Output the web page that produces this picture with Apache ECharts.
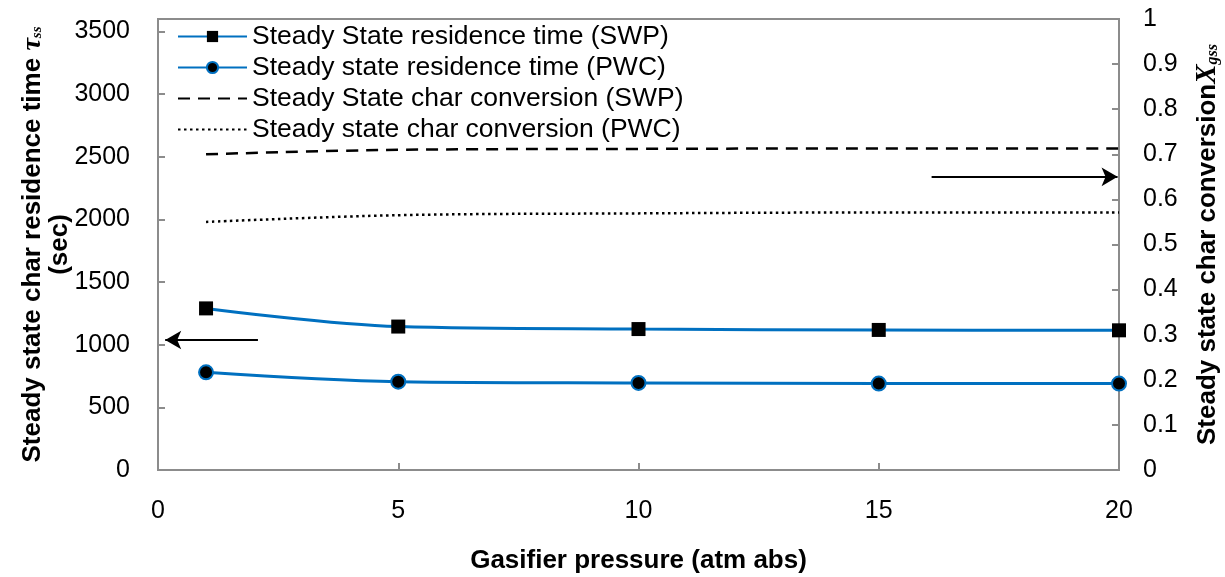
<!DOCTYPE html>
<html>
<head>
<meta charset="utf-8">
<script src="https://cdn.jsdelivr.net/npm/echarts@6/dist/echarts.min.js"></script>
<style>html,body{margin:0;padding:0;background:#fff}#c{width:1225px;height:577px}</style>
</head>
<body>
<div id="c"></div>
<script>
const pressure = [1, 5, 10, 15, 20];
const resSWP = [1290, 1145, 1125, 1118, 1115];
const resPWC = [780, 705, 695, 690, 690];
const convSWP = [0.700, 0.710, 0.712, 0.713, 0.713];
const convPWC = [0.550, 0.565, 0.569, 0.571, 0.571];
const seriesNames = [
  'Steady State residence time (SWP)',
  'Steady state residence time (PWC)',
  'Steady State char conversion (SWP)',
  'Steady state char conversion (PWC)'
];
// annotation arrows (data space): [fromX, fromY] -> [toX, toY]
const leftArrow = [[2.08, 1038], [0.15, 1038]];
const rightArrow = [[16.1, 0.650], [19.97, 0.650]];

const FONT = 'Liberation Sans, Arial, sans-serif';
const SERIF = 'Liberation Serif, Times New Roman, serif';
const pair = (xs, ys) => xs.map((x, i) => [x, ys[i]]);
const axisGrey = '#8c8c8c';
const TICK = 25;
const TITLE = 26;

const chart = echarts.init(document.getElementById('c'));
chart.setOption({
  animation: false,
  backgroundColor: '#fff',
  grid: { left: 158, right: 106, top: 19, bottom: 107, show: true, borderColor: axisGrey, borderWidth: 2,
    containLabel: false, outerBoundsMode: 'none' },
  legend: {
    orient: 'vertical', left: 172, top: 18,
    itemWidth: 69, itemHeight: 14, itemGap: 4,
    textStyle: { fontFamily: FONT, fontSize: 26.5, color: '#000' },
    data: seriesNames
  },
  xAxis: {
    type: 'value', min: 0, max: 20, interval: 5,
    axisLine: { lineStyle: { color: axisGrey, width: 2 } },
    axisTick: { inside: true, length: 7, lineStyle: { color: axisGrey, width: 2 } },
    splitLine: { show: false },
    axisLabel: { fontFamily: FONT, fontSize: TICK, color: '#000', margin: 29 },
    name: 'Gasifier pressure (atm abs)', nameLocation: 'middle', nameGap: 78, nameMoveOverlap: false,
    nameTextStyle: { fontFamily: FONT, fontSize: TITLE, fontWeight: 'bold', color: '#000' }
  },
  yAxis: [{
    type: 'value', min: 0, max: 3600, interval: 500,
    axisLine: { show: true, lineStyle: { color: axisGrey, width: 2 } },
    axisTick: { show: true, inside: true, length: 7, lineStyle: { color: axisGrey, width: 2 } },
    splitLine: { show: false },
    axisLabel: { fontFamily: FONT, fontSize: TICK, color: '#000', margin: 28, showMaxLabel: false,
      formatter: v => String(v) },
    name: '{b|Steady state char residence time }{t|τ}{s|ss}\n{b|(sec)}',
    nameLocation: 'middle', nameRotate: 90, nameGap: 85, nameMoveOverlap: false,
    nameTextStyle: {
      fontFamily: FONT, fontSize: TITLE, fontWeight: 'bold', color: '#000', lineHeight: 27,
      rich: {
        b: { fontFamily: FONT, fontSize: TITLE, fontWeight: 'bold', color: '#000', lineHeight: 27 },
        t: { fontFamily: SERIF, fontSize: 28, fontWeight: 'bold', fontStyle: 'italic', color: '#000', lineHeight: 27 },
        s: { fontFamily: SERIF, fontSize: 15, fontStyle: 'italic', color: '#000', padding: [10, 0, 0, 0], lineHeight: 27 }
      }
    }
  }, {
    type: 'value', min: 0, max: 1, interval: 0.1, position: 'right',
    axisLine: { show: true, lineStyle: { color: axisGrey, width: 2 } },
    axisTick: { show: true, inside: true, length: 7, lineStyle: { color: axisGrey, width: 2 } },
    splitLine: { show: false },
    axisLabel: { fontFamily: FONT, fontSize: TICK, color: '#000', margin: 24,
      formatter: v => (Math.round(v * 10) / 10).toString() },
    name: '{b|Steady state char conversion}{x|X}{s|gss}',
    nameLocation: 'middle', nameRotate: 90, nameGap: 74, nameMoveOverlap: false,
    nameTextStyle: {
      fontFamily: FONT, fontSize: TITLE, fontWeight: 'bold', color: '#000',
      rich: {
        b: { fontFamily: FONT, fontSize: TITLE, fontWeight: 'bold', color: '#000' },
        x: { fontFamily: SERIF, fontSize: 29, fontWeight: 'bold', fontStyle: 'italic', color: '#000' },
        s: { fontFamily: SERIF, fontSize: 16, fontStyle: 'italic', color: '#000', padding: [10, 0, 0, 0] }
      }
    }
  }],
  series: [{
    name: seriesNames[0], type: 'line', yAxisIndex: 0, smooth: 0.35,
    data: pair(pressure, resSWP),
    symbol: 'rect', symbolSize: 14,
    lineStyle: { color: '#0070c0', width: 3 },
    itemStyle: { color: '#000', borderColor: '#000', borderWidth: 0 },
    markLine: {
      silent: true, symbol: ['none', 'arrow'], symbolSize: [14, 16],
      label: { show: false },
      lineStyle: { color: '#000', width: 2, type: 'solid' },
      data: [[{ coord: leftArrow[0] }, { coord: leftArrow[1] }]]
    }
  }, {
    name: seriesNames[1], type: 'line', yAxisIndex: 0, smooth: 0.35,
    data: pair(pressure, resPWC),
    symbol: 'circle', symbolSize: 14,
    lineStyle: { color: '#0070c0', width: 3 },
    itemStyle: { color: '#000', borderColor: '#0070c0', borderWidth: 2 }
  }, {
    name: seriesNames[2], type: 'line', yAxisIndex: 1, smooth: 0.35,
    data: pair(pressure, convSWP),
    symbol: 'none',
    lineStyle: { color: '#000', width: 2.5, type: [12, 8] },
    itemStyle: { color: 'transparent', borderWidth: 0 },
    markLine: {
      silent: true, symbol: ['none', 'arrow'], symbolSize: [14, 16],
      label: { show: false },
      lineStyle: { color: '#000', width: 2, type: 'solid' },
      data: [[{ coord: rightArrow[0] }, { coord: rightArrow[1] }]]
    }
  }, {
    name: seriesNames[3], type: 'line', yAxisIndex: 1, smooth: 0.35,
    data: pair(pressure, convPWC),
    symbol: 'none',
    lineStyle: { color: '#000', width: 2.5, type: [2.5, 3.5] },
    itemStyle: { color: 'transparent', borderWidth: 0 }
  }]
});
</script>
</body>
</html>
